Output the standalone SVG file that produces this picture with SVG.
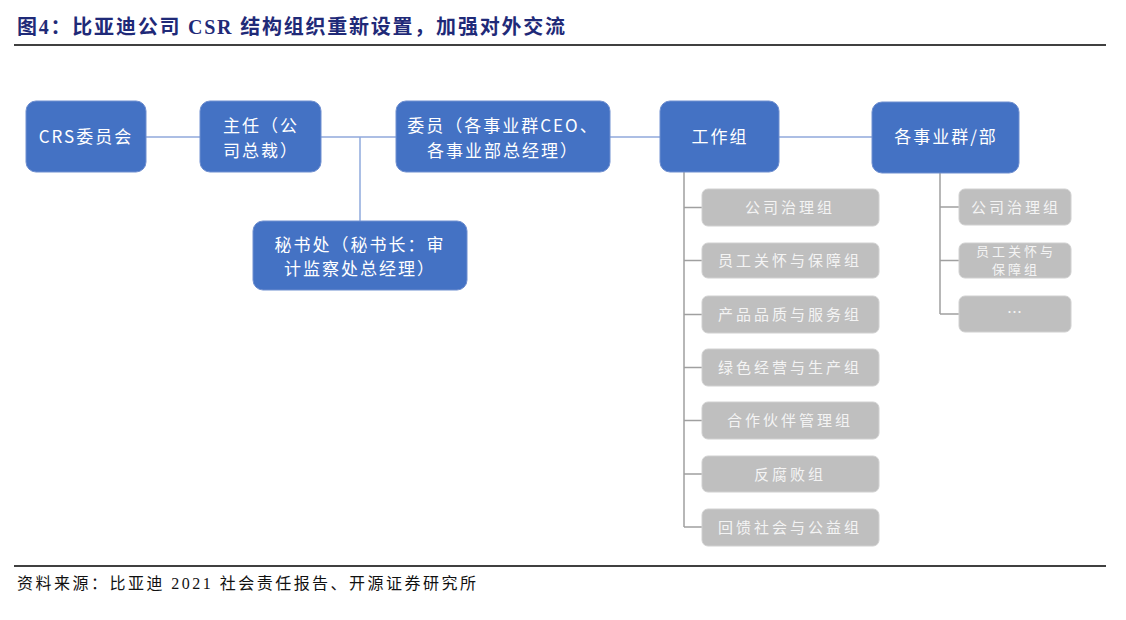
<svg xmlns="http://www.w3.org/2000/svg" width="1126" height="620" viewBox="0 0 1126 620">
<style>
.title{font-family:"Liberation Serif","Noto Sans CJK SC",serif;font-weight:bold;font-size:20px;fill:#1F2A78}
.src{font-family:"Liberation Serif","Noto Sans CJK SC",serif;font-size:16px;fill:#111}
.blue{fill:#4472C4;stroke:#6F8FD0;stroke-width:1}
.gray{fill:#BFBFBF;stroke:#D0D0D0;stroke-width:1}
.bt{font-family:"Noto Sans CJK SC","Liberation Serif",sans-serif;font-size:17px;fill:#FFFFFF;text-anchor:middle;letter-spacing:2px}
.gt{font-family:"Noto Sans CJK SC","Liberation Serif",sans-serif;font-size:15px;fill:#F4F4F4;text-anchor:middle;letter-spacing:3px}
.gts{font-family:"Noto Sans CJK SC","Liberation Serif",sans-serif;font-size:13px;fill:#F4F4F4;text-anchor:middle;letter-spacing:3px}
.bl{stroke:#5A7FC9;stroke-width:1.2;fill:none}
.bl2{stroke:#8FAADC;stroke-width:1.5;fill:none}
.gl{stroke:#A0A0A0;stroke-width:1.5;fill:none}
.rule{stroke:#000;stroke-width:1.3}
</style>
<rect width="1126" height="620" fill="#FFFFFF"/>
<text class="title" x="17" y="34" textLength="548" lengthAdjust="spacing">图4：比亚迪公司 CSR 结构组织重新设置，加强对外交流</text>
<line class="rule" x1="14" y1="45" x2="1106" y2="45"/>
<line class="rule" x1="14" y1="566" x2="1106" y2="566"/>
<text class="src" x="17" y="589" textLength="459" lengthAdjust="spacing">资料来源：比亚迪 2021 社会责任报告、开源证券研究所</text>

<g id="connectors">
<line class="bl" x1="146" y1="137" x2="200" y2="137"/>
<line class="bl" x1="321" y1="137" x2="396" y2="137"/>
<line class="bl2" x1="360" y1="137" x2="360" y2="221"/>
<line class="bl" x1="610" y1="137" x2="660" y2="137"/>
<line class="bl" x1="779" y1="137" x2="872" y2="137"/>
<path class="gl" d="M684 172 V527 M684 207.5 H702 M684 260.5 H702 M684 314.5 H702 M684 367.5 H702 M684 420.5 H702 M684 474 H702 M684 527 H702"/>
<path class="gl" d="M940 173 V314 M940 207 H959 M940 260.5 H959 M940 314 H959"/>
</g>

<g id="n-crs"><rect class="blue" x="26" y="101" width="120" height="71" rx="10"/><text class="bt" x="86" y="143" letter-spacing="0">CRS委员会</text></g>
<g id="n-zhuren"><rect class="blue" x="200" y="101" width="121" height="71" rx="10"/><text class="bt" x="261" y="132">主任（公</text><text class="bt" x="261" y="157">司总裁）</text></g>
<g id="n-weiyuan"><rect class="blue" x="396" y="101" width="214" height="71" rx="10"/><text class="bt" x="503" y="132" letter-spacing="1">委员（各事业群CEO、</text><text class="bt" x="503" y="157">各事业部总经理）</text></g>
<g id="n-mishu"><rect class="blue" x="253" y="221" width="214" height="69" rx="10"/><text class="bt" x="360" y="251" letter-spacing="3">秘书处（秘书长：审</text><text class="bt" x="360" y="275" letter-spacing="3">计监察处总经理）</text></g>
<g id="n-gongzuo"><rect class="blue" x="660" y="101" width="119" height="71" rx="10"/><text class="bt" x="720" y="143">工作组</text></g>
<g id="n-shiye"><rect class="blue" x="872" y="102" width="147" height="71" rx="10"/><text class="bt" x="946" y="143">各事业群/部</text></g>

<g id="g1"><rect class="gray" x="702" y="189" width="177" height="37" rx="6"/><text class="gt" x="790" y="213">公司治理组</text></g>
<g id="g2"><rect class="gray" x="702" y="243" width="177" height="35" rx="6"/><text class="gt" x="790" y="266">员工关怀与保障组</text></g>
<g id="g3"><rect class="gray" x="702" y="296" width="177" height="37" rx="6"/><text class="gt" x="790" y="320">产品品质与服务组</text></g>
<g id="g4"><rect class="gray" x="702" y="349" width="177" height="37" rx="6"/><text class="gt" x="790" y="373">绿色经营与生产组</text></g>
<g id="g5"><rect class="gray" x="702" y="402" width="177" height="37" rx="6"/><text class="gt" x="790" y="426">合作伙伴管理组</text></g>
<g id="g6"><rect class="gray" x="702" y="456" width="177" height="36" rx="6"/><text class="gt" x="790" y="480">反腐败组</text></g>
<g id="g7"><rect class="gray" x="702" y="509" width="177" height="37" rx="6"/><text class="gt" x="790" y="533">回馈社会与公益组</text></g>

<g id="r1"><rect class="gray" x="959" y="189" width="112" height="36" rx="6"/><text class="gt" x="1016" y="213" letter-spacing="1">公司治理组</text></g>
<g id="r2"><rect class="gray" x="959" y="243" width="112" height="35" rx="6"/><text class="gts" x="1016" y="256">员工关怀与</text><text class="gts" x="1016" y="274">保障组</text></g>
<g id="r3"><rect class="gray" x="959" y="296" width="112" height="36" rx="6"/><text class="gt" x="1016" y="318" letter-spacing="0">…</text></g>
</svg>
